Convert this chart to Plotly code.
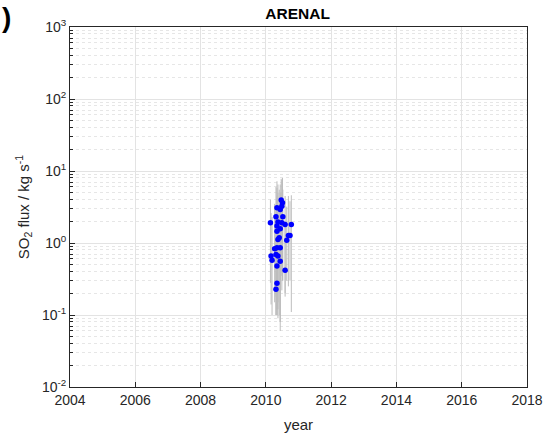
import plotly.graph_objects as go

years = [2010.47, 2010.51, 2010.34, 2010.44, 2010.49, 2010.31, 2010.52, 2010.14,
         2010.37, 2010.49, 2010.59, 2010.78, 2010.34, 2010.44, 2010.34, 2010.74,
         2010.69, 2010.41, 2010.64, 2010.37, 2010.34, 2010.44, 2010.27, 2010.16,
         2010.31, 2010.37, 2010.19, 2010.44, 2010.34, 2010.59, 2010.34, 2010.31]
flux = [3.94, 3.61, 3.08, 2.92, 3.25, 2.31, 2.31, 1.91,
        1.95, 1.91, 1.81, 1.81, 1.72, 1.58, 1.46, 1.27,
        1.27, 1.18, 1.09, 1.12, 0.86, 0.86, 0.83, 0.66,
        0.695, 0.66, 0.574, 0.56, 0.48, 0.417, 0.275, 0.228]
upper = [7.8, 8.0, 7.2, 6.5, 7.5, 6.0, 5.5, 4.0,
         6.5, 5.0, 4.5, 4.6, 5.8, 5.0, 4.5, 3.8,
         4.5, 5.5, 3.2, 5.0, 4.0, 3.6, 3.5, 2.6,
         3.0, 3.3, 2.3, 3.0, 2.6, 2.0, 1.8, 1.6]
lower = [0.35, 0.30, 0.25, 0.20, 0.40, 0.18, 0.30, 0.28,
         0.15, 0.22, 0.20, 0.11, 0.12, 0.08, 0.10, 0.30,
         0.25, 0.10, 0.30, 0.09, 0.12, 0.06, 0.15, 0.14,
         0.10, 0.12, 0.10, 0.08, 0.10, 0.18, 0.10, 0.10]

err_plus = [u - f for u, f in zip(upper, flux)]
err_minus = [f - l for f, l in zip(flux, lower)]

x_ticks = [2004, 2006, 2008, 2010, 2012, 2014, 2016, 2018]
y_ticks = [0.01, 0.1, 1, 10, 100, 1000]
y_labels = ["10<sup>-2</sup>", "10<sup>-1</sup>", "10<sup>0</sup>",
            "10<sup>1</sup>", "10<sup>2</sup>", "10<sup>3</sup>"]

FONT = "Liberation Sans, Arial, sans-serif"

fig = go.Figure()
fig.add_trace(go.Scatter(
    x=years, y=flux, mode="markers",
    marker=dict(color="#0000ff", size=5.5),
    error_y=dict(type="data", symmetric=False, array=err_plus, arrayminus=err_minus,
                 color="#bdbdbd", thickness=1, width=0),
    showlegend=False,
))

axis_common = dict(
    showline=True, linecolor="#262626", linewidth=1, mirror=True,
    ticks="inside", tickcolor="#262626", ticklen=5,
    tickfont=dict(family=FONT, size=14, color="#262626"),
    gridcolor="#e3e3e3", gridwidth=1, zeroline=False, automargin=False,
)

fig.update_xaxes(range=[2004, 2018], tickvals=x_ticks, ticktext=[str(t) for t in x_ticks],
                 title=dict(text="year", font=dict(family=FONT, size=15, color="#262626"), standoff=12),
                 **axis_common)
fig.update_yaxes(type="log", range=[-2, 3], tickvals=y_ticks, ticktext=y_labels,
                 title=dict(text="SO<sub>2</sub> flux / kg s<sup>-1</sup>",
                            font=dict(family=FONT, size=15, color="#262626"), standoff=8),
                 minor=dict(dtick="D1", ticks="inside", ticklen=3, tickcolor="#262626",
                            showgrid=True, gridcolor="#e6e6e6", griddash="dot"),
                 **axis_common)

fig.update_layout(
    width=546, height=437,
    margin=dict(l=70, r=19, t=27, b=50),
    plot_bgcolor="white", paper_bgcolor="white",
    title=dict(text="<b>ARENAL</b>", x=0.545, xanchor="center",
               y=1 - 14 / 437, yanchor="middle", yref="container",
               font=dict(family=FONT, size=15.5, color="black")),
    annotations=[dict(text="<b>)</b>", x=0, y=1, xref="paper", yref="paper",
                      xshift=-70, yshift=-8, showarrow=False, xanchor="left", yanchor="bottom",
                      font=dict(family=FONT, size=28, color="black"))],
)

fig.write_html("out.html", config={"displayModeBar": False},
               post_script="document.body.style.margin='0';")
